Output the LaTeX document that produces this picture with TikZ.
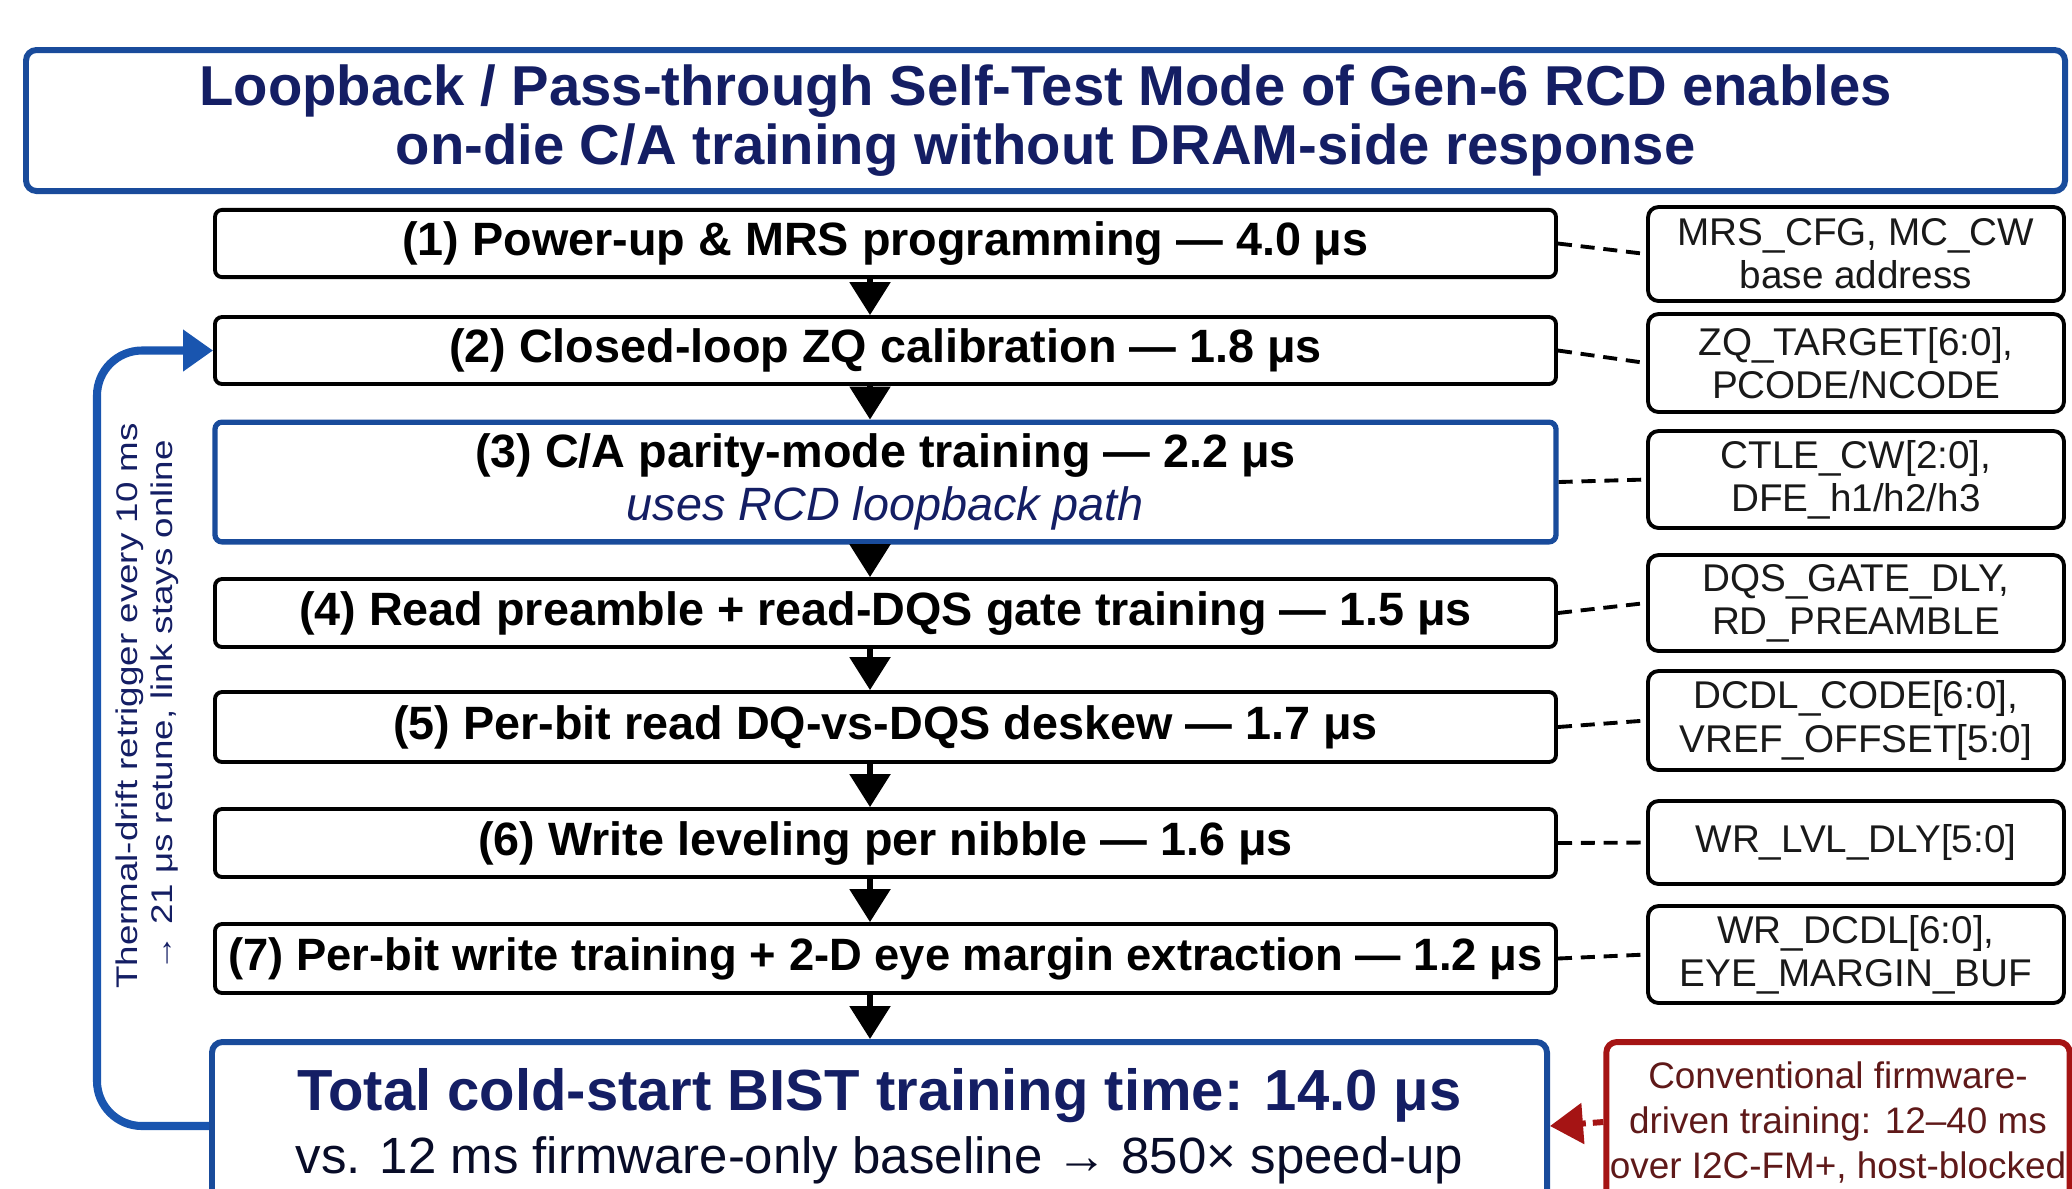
\documentclass[tikz,border=0pt]{standalone}
\usepackage{fontspec}
\setmainfont{Liberation Sans}
\newfontfamily\narrowsans[FakeStretch=1.23]{Liberation Sans}
\usetikzlibrary{arrows.meta}

\definecolor{titlenavy}{RGB}{20,30,100}
\definecolor{frameblue}{RGB}{25,75,155}
\definecolor{loopblue}{RGB}{25,85,175}
\definecolor{warnred}{RGB}{165,20,20}
\definecolor{warntext}{RGB}{95,25,25}

\begin{document}
\begin{tikzpicture}[
		stepbox/.style={draw, line width=1.1pt, rounded corners=2pt, minimum width=13.41cm, inner xsep=1pt, align=center, font=\bfseries\fontsize{13.3}{15}\selectfont},
		regbox/.style={draw, line width=1.1pt, rounded corners=3pt, minimum width=4.16cm, inner sep=1pt, align=center, text=black!90, font=\fontsize{11}{12.3}\selectfont},
		flow/.style={line width=1.6pt, -{Triangle[width=0.4cm,length=0.33cm]}},
		link/.style={line width=1.1pt, dash pattern=on 4pt off 2.5pt}
	]
		\useasboundingbox (0,0) rectangle (20.72,-11.88);

		\node[draw=frameblue, line width=1.7pt, rounded corners=3pt, minimum width=20.39cm, minimum height=1.41cm, text=titlenavy, align=center, font=\bfseries\fontsize{16}{17}\selectfont] (title) at (10.455,-1.205) {Loopback / Pass-through Self-Test Mode of Gen-6 RCD enables\\on-die C/A training without DRAM-side response};

		% training steps
		\node[stepbox, minimum height=0.67cm] (s1) at (8.855,-2.435) {(1) Power-up \& MRS programming — 4.0 μs};
		\node[stepbox, minimum height=0.65cm] (s2) at (8.855,-3.505) {(2) Closed-loop ZQ calibration — 1.8 μs};
		\node[stepbox, draw=frameblue, line width=1.5pt, minimum height=1.14cm] (s3) at (8.855,-4.82) {(3) C/A parity-mode training — 2.2 μs\\{\mdseries\itshape\color{titlenavy}uses RCD loopback path}};
		\node[stepbox, minimum height=0.68cm] (s4) at (8.855,-6.13) {(4) Read preamble + read-DQS gate training — 1.5 μs};
		\node[stepbox, minimum height=0.70cm] (s5) at (8.855,-7.27) {(5) Per-bit read DQ-vs-DQS deskew — 1.7 μs};
		\node[stepbox, minimum height=0.68cm] (s6) at (8.855,-8.43) {(6) Write leveling per nibble — 1.6 μs};
		\node[stepbox, minimum height=0.69cm, inner xsep=0pt, font=\bfseries\fontsize{12.9}{15}\selectfont] (s7) at (8.855,-9.585) {(7) Per-bit write training + 2-D eye margin extraction — 1.2 μs};

		\node[draw=frameblue, line width=1.7pt, rounded corners=3pt, minimum width=13.35cm, minimum height=1.68cm, align=center, text=titlenavy!40!black, font=\fontsize{14.5}{18}\selectfont] (total) at (8.795,-11.26) {{\bfseries\color{titlenavy}\fontsize{16.5}{18}\selectfont Total cold-start BIST training time: 14.0 μs}\\vs. 12 ms firmware-only baseline → 850× speed-up};

		% register fields per step
		\node[regbox, minimum height=0.94cm] (r1) at (18.56,-2.54) {MRS\_CFG, MC\_CW\\base address};
		\node[regbox, minimum height=0.98cm] (r2) at (18.56,-3.63) {ZQ\_TARGET[6:0],\\PCODE/NCODE};
		\node[regbox, minimum height=0.97cm] (r3) at (18.56,-4.795) {CTLE\_CW[2:0],\\DFE\_h1/h2/h3};
		\node[regbox, minimum height=0.96cm] (r4) at (18.56,-6.03) {DQS\_GATE\_DLY,\\RD\_PREAMBLE};
		\node[regbox, minimum height=0.99cm] (r5) at (18.56,-7.205) {DCDL\_CODE[6:0],\\VREF\_OFFSET[5:0]};
		\node[regbox, minimum height=0.83cm] (r6) at (18.56,-8.425) {WR\_LVL\_DLY[5:0]};
		\node[regbox, minimum height=0.97cm] (r7) at (18.56,-9.545) {WR\_DCDL[6:0],\\EYE\_MARGIN\_BUF};

		\node[draw=warnred, line width=1.7pt, rounded corners=3pt, minimum width=4.6cm, minimum height=1.6cm, inner sep=1pt, align=center, text=warntext, font=\fontsize{10.5}{12.8}\selectfont] (fw) at (18.38,-11.22) {Conventional firmware-\\driven training: 12–40 ms\\over I2C-FM+, host-blocked};

		\node[rotate=90, align=center, text=titlenavy, font=\narrowsans\fontsize{8.5}{10}\selectfont] (drift) at (1.47,-7.06) {Thermal-drift retrigger every 10 ms\\→ 21 μs retune, link stays online};

		% flow down the column
		\coordinate (spine) at (8.7,0);
		\foreach \a/\b in {s1/s2,s2/s3,s3/s4,s4/s5,s5/s6,s6/s7,s7/total}{
			\draw[flow] (\a.south -| spine) -- (\b.north -| spine);
		}

		\foreach \i in {1,...,7}{
			\draw[link] (s\i.east) -- (r\i.west);
		}

		% retrigger loop back to ZQ
		\draw[loopblue, line width=2.3pt, rounded corners=0.45cm, -{Triangle[width=0.4cm,length=0.3cm]}] (total.west) -- (0.97,-11.26) |- (s2.west);

		\draw[warnred, line width=1.7pt, dash pattern=on 3pt off 2pt, -{Triangle[width=0.4cm,length=0.33cm]}] (fw.west) -- (total.east);
	\end{tikzpicture}
\end{document}
